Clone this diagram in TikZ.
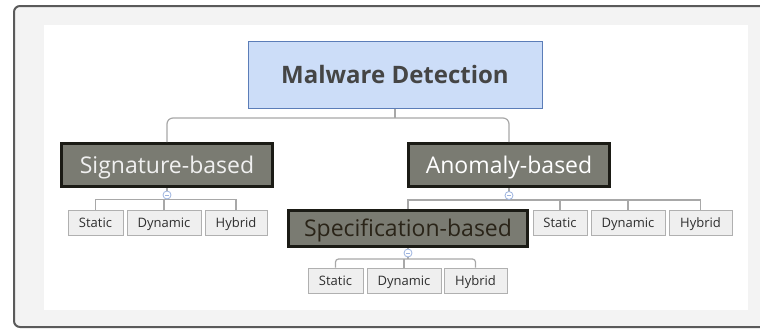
\documentclass[tikz,border=0pt]{standalone}
\usepackage{fontspec}
\setmainfont{Open Sans}
\usetikzlibrary{calc}
\definecolor{frameC}{HTML}{5A5A5A}
\definecolor{bgC}{HTML}{F3F3F3}
\definecolor{rootFill}{HTML}{CCDDF8}
\definecolor{rootLine}{HTML}{5B7DB8}
\definecolor{rootText}{HTML}{454545}
\definecolor{catFill}{HTML}{7A7B72}
\definecolor{catLine}{HTML}{1B1B15}
\definecolor{specText}{HTML}{2A2418}
\definecolor{leafFill}{HTML}{EFEFEF}
\definecolor{leafLine}{HTML}{B0B0B0}
\definecolor{leafText}{HTML}{2E2E2E}
\definecolor{linkC}{HTML}{A8A8A8}
\definecolor{iconC}{HTML}{9DB4E0}
\tikzset{
  rootbox/.style={draw=rootLine, fill=rootFill, line width=1pt, minimum width=294pt, minimum height=67pt, inner sep=0pt, text height=17pt, text depth=0pt, text=rootText, font=\fontsize{24}{28}\selectfont\bfseries},
  catbox/.style={draw=catLine, fill=catFill, line width=3pt, minimum height=43pt, inner sep=0pt, text height=16.5pt, text depth=0pt, font=\fontsize{23}{27}\selectfont},
  leafbox/.style={draw=leafLine, fill=leafFill, line width=1pt, minimum height=25pt, inner sep=0pt, text height=9.3pt, text depth=0pt, text=leafText, font=\fontsize{13}{15}\selectfont},
  link/.style={draw=linkC, line width=1.2pt},
  icon/.style={circle, draw=iconC, fill=white, line width=0.8pt, minimum size=8pt, inner sep=0pt},
}
\begin{document}
\begin{tikzpicture}[x=1pt, y=-1pt]
\useasboundingbox (0,0) rectangle (760,332);
% frame
\draw[frameC, fill=bgC, line width=2pt, rounded corners=6pt] (14,6) -- (770,6) -- (770,327) -- (14,327) -- cycle;
\fill[white] (44,25) rectangle (748,310);
% nodes
\node[rootbox] (root) at (395,74.5) {Malware Detection};
\node[catbox, minimum width=211pt, text=white!94!black] (sig) at (167,165) {Signature-based};
\node[catbox, minimum width=201pt, text=white] (anom) at (509,165) {Anomaly-based};
\node[catbox, minimum width=239pt, minimum height=36pt, text=specText] (spec) at (408,228.5) {Specification-based};
% leaves of sig
\node[leafbox, minimum width=55pt] (s1) at (95.5,222.5) {Static};
\node[leafbox, minimum width=74pt] (s2) at (164,222.5) {Dynamic};
\node[leafbox, minimum width=62pt] (s3) at (236,222.5) {Hybrid};
% leaves of anom
\node[leafbox, minimum width=54pt] (a1) at (560,222.5) {Static};
\node[leafbox, minimum width=74pt] (a2) at (628,222.5) {Dynamic};
\node[leafbox, minimum width=63pt] (a3) at (700.5,222.5) {Hybrid};
% leaves of spec
\node[leafbox, minimum width=55pt] (p1) at (335.5,280.5) {Static};
\node[leafbox, minimum width=74pt] (p2) at (404,280.5) {Dynamic};
\node[leafbox, minimum width=63pt] (p3) at (475.5,280.5) {Hybrid};
% top connectors
\coordinate (j0) at (395,118);
\draw[link] (root.south) -- (j0);
\draw[link, rounded corners=6pt] (sig.north) |- (j0) -| (anom.north);
% sig fork
\coordinate (js) at (167,199.5);
\draw[link] (s1.north) |- (js) -| (s3.north);
\draw[link] (s2.north) -- (s2.north |- js);
\draw[link] (sig.south) -- (js);
% anom fork
\coordinate (ja) at (509,200);
\draw[link] (spec.north) |- (ja) -| (a3.north);
\draw[link] (a1.north) -- (a1.north |- ja);
\draw[link] (a2.north) -- (a2.north |- ja);
\draw[link] (anom.south) -- (ja);
% spec fork
\coordinate (jp) at (408,259);
\draw[link, rounded corners=3pt] (p1.north) |- (jp) -| (p3.north);
\draw[link] (p2.north) -- (p2.north |- jp);
\draw[link] (spec.south) -- (jp);
% collapse icons
\node[icon] (is) at (167,195) {};
\node[icon] (ia) at (509,195.5) {};
\node[icon] (ip) at (408,253) {};
\foreach \n in {is,ia,ip}{\draw[iconC, line width=0.8pt] ($(\n.center)+(-2,0)$) -- ($(\n.center)+(2,0)$);}
\end{tikzpicture}
\end{document}
